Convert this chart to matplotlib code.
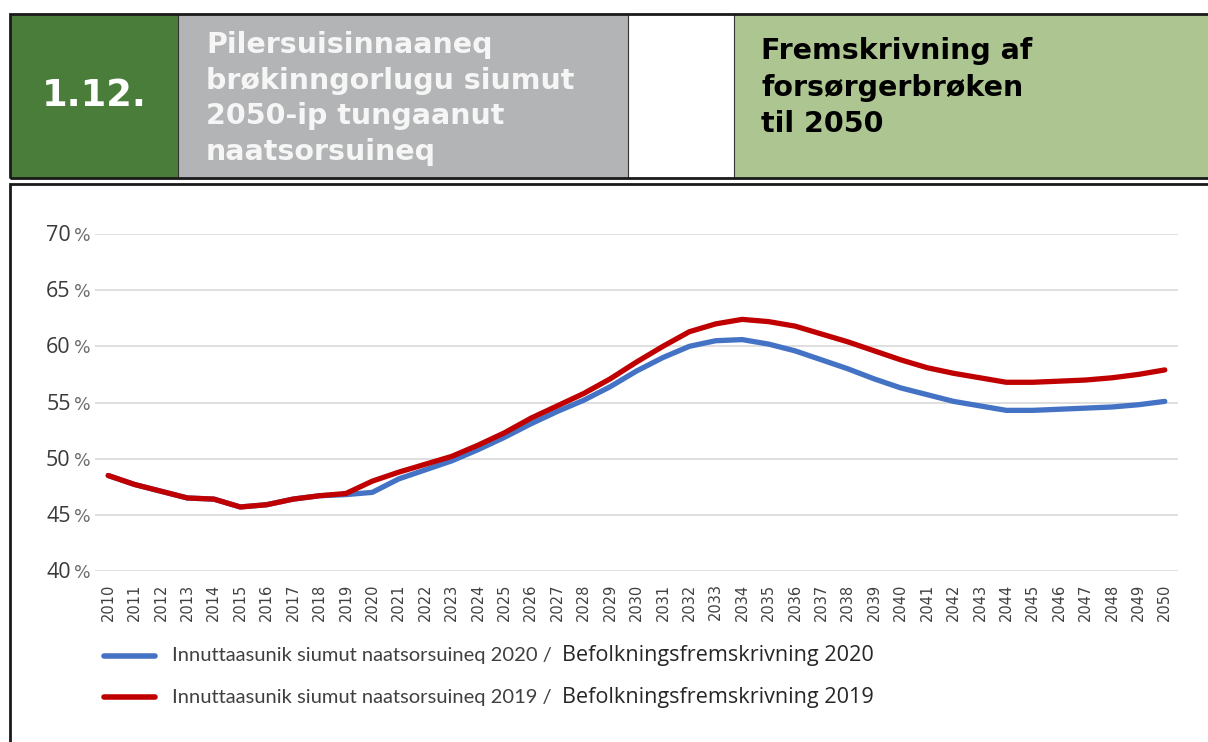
import matplotlib
matplotlib.use("Agg")
import matplotlib.pyplot as plt
from matplotlib.patches import Rectangle
from matplotlib.lines import Line2D
from matplotlib.transforms import offset_copy

# ---------------- data ----------------
years = list(range(2010, 2051))
proj_2020 = [48.5, 47.7, 47.1, 46.5, 46.4, 45.7, 45.9, 46.4, 46.7, 46.8,
             47.0, 48.2, 49.0, 49.8, 50.8, 51.9, 53.1, 54.2, 55.2, 56.4,
             57.8, 59.0, 60.0, 60.5, 60.6, 60.2, 59.6, 58.8, 58.0, 57.1,
             56.3, 55.7, 55.1, 54.7, 54.3, 54.3, 54.4, 54.5, 54.6, 54.8, 55.1]
proj_2019 = [48.5, 47.7, 47.1, 46.5, 46.4, 45.7, 45.9, 46.4, 46.7, 46.9,
             48.0, 48.8, 49.5, 50.2, 51.2, 52.3, 53.6, 54.7, 55.8, 57.1,
             58.6, 60.0, 61.3, 62.0, 62.4, 62.2, 61.8, 61.1, 60.4, 59.6,
             58.8, 58.1, 57.6, 57.2, 56.8, 56.8, 56.9, 57.0, 57.2, 57.5, 57.9]
y_ticks = [40, 45, 50, 55, 60, 65, 70]
legend_kl = ["Innuttaasunik siumut naatsorsuineq 2020 / ",
             "Innuttaasunik siumut naatsorsuineq 2019 / "]
legend_da = ["Befolkningsfremskrivning 2020", "Befolkningsfremskrivning 2019"]
header_num = "1.12."
header_kl = ["Pilersuisinnaaneq", "brøkinngorlugu siumut", "2050-ip tungaanut", "naatsorsuineq"]
header_da = ["Fremskrivning af", "forsørgerbrøken", "til 2050"]

W, H = 1208, 742
fig = plt.figure(figsize=(W / 100, H / 100), dpi=100)
fig.patch.set_facecolor("white")

def fx(x):
    return x / W

def fy(y):
    return 1 - y / H

def rect(x0, y0, x1, y1, fc, ec="none", lw=0, z=0):
    fig.patches.append(Rectangle((fx(x0), fy(y1)), fx(x1) - fx(x0), fy(y0) - fy(y1),
                                 transform=fig.transFigure, facecolor=fc, edgecolor=ec,
                                 linewidth=lw, zorder=z))

# ---------------- header ----------------
top, bot = 14, 178
rect(10, top, 178, bot, "#4B7D3A")
rect(178, top, 628, bot, "#B2B4B5")
rect(628, top, 734, bot, "white")
rect(734, top, 1212, bot, "#ADC590")
for xs in [178, 628, 734]:
    fig.add_artist(Line2D([fx(xs), fx(xs)], [fy(top), fy(bot)], transform=fig.transFigure,
                          color="#333333", lw=0.8))
rect(10, top, 1215, bot, "none", ec="#1a1a1a", lw=2, z=3)

fig.text(fx(94), fy(106), header_num, color="white", fontsize=26.5, fontweight="bold",
         family="DejaVu Sans", ha="center", va="baseline")
for i, line in enumerate(header_kl):
    fig.text(fx(206), fy(53 + i * 35.7), line, color="#f6f6f6", fontsize=20.5,
             fontweight="bold", family="DejaVu Sans", ha="left", va="baseline")
for i, line in enumerate(header_da):
    fig.text(fx(761), fy(59 + i * 36.5), line, color="black", fontsize=20.5,
             fontweight="bold", family="DejaVu Sans", ha="left", va="baseline")

# chart box border
rect(10, 184, 1220, 760, "none", ec="#1a1a1a", lw=2, z=3)

# ---------------- chart ----------------
ax = fig.add_axes([fx(95), fy(571), fx(1178) - fx(95), fy(234) - fy(571)])
ax.set_xlim(2009.5, 2050.5)
ax.set_ylim(40, 70)
ax.set_yticks(y_ticks)
ax.yaxis.grid(True, color="#d9d9d9", lw=1.2)
ax.set_axisbelow(True)
for s in ax.spines.values():
    s.set_visible(False)
ax.tick_params(axis="both", length=0)
ax.set_yticklabels([])
lab_tr = offset_copy(ax.get_yaxis_transform(), fig=fig, x=0, y=-7, units="dots")
for v in y_ticks:
    ax.text(-0.0225, v, f"{v}", transform=lab_tr, ha="right", va="baseline",
            fontsize=15.5, color="#3a3a3a", family="Open Sans")
    ax.text(-0.0037, v, "%", transform=lab_tr, ha="right", va="baseline",
            fontsize=12.5, color="#6a6a6a", family="DejaVu Sans")
ax.set_xticks(years)
ax.set_xticklabels([str(y) for y in years], rotation=90, fontsize=10.5, color="#404040",
                   family="DejaVu Sans")
ax.tick_params(axis="x", pad=9)

ax.plot(years, proj_2020, color="#4472C4", lw=3.8, solid_capstyle="round", zorder=3)
ax.plot(years, proj_2019, color="#C00000", lw=3.8, solid_capstyle="round", zorder=4)

# ---------------- legend ----------------
leg_y = [656, 697]
leg_c = ["#4472C4", "#C00000"]
for yy, c, t1, t2 in zip(leg_y, leg_c, legend_kl, legend_da):
    fig.add_artist(Line2D([fx(104), fx(155)], [fy(yy), fy(yy)], transform=fig.transFigure,
                          color=c, lw=4, solid_capstyle="round"))
    fig.text(fx(172), fy(yy), t1, fontsize=14.5, color="#404040", family="Lato",
             ha="left", va="center")
    fig.text(fx(562), fy(yy), t2, fontsize=15.6, color="#262626", family="Open Sans",
             ha="left", va="center")

fig.savefig("out.png", dpi=100)
